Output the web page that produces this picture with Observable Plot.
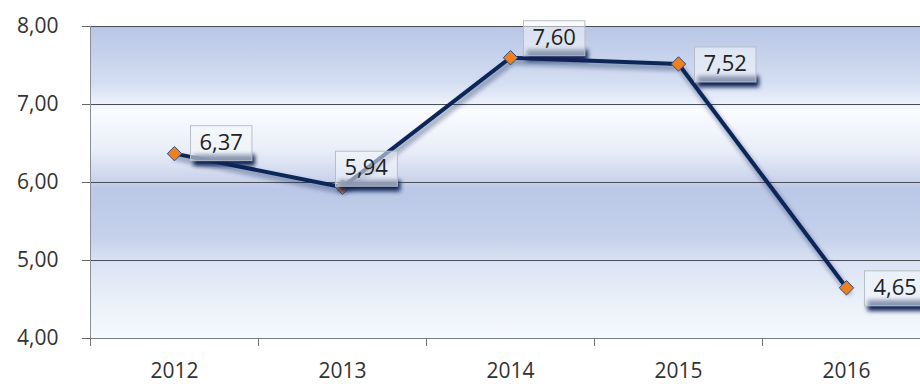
<!DOCTYPE html>
<html><head><meta charset="utf-8">
<script src="https://cdn.jsdelivr.net/npm/d3@7"></script>
<script src="https://cdn.jsdelivr.net/npm/@observablehq/plot@0.6"></script>
<style>body{margin:0;background:#fff} #chart svg{display:block}</style>
</head><body><div id="chart"></div>
<script>
const years = [2012, 2013, 2014, 2015, 2016];
const values = [6.37, 5.94, 7.60, 7.52, 4.65];
const yTicks = [4, 5, 6, 7, 8];

const data = years.map((year, i) => ({year, value: values[i]}));
const fmt = d => d.toFixed(2).replace(".", ",");
const labelDx = [25, 2, 22, 25, 27];
const labelDy = [-11, -19, -20, 0, 0];
const bounds = [...years.map(y => y - 0.5), years[years.length - 1] + 0.5];
const font = '"Open Sans", sans-serif';

const plot = Plot.plot({
  width: 920, height: 384, marginTop: 26, marginBottom: 46, marginLeft: 90, marginRight: 0,
  style: {fontFamily: font, fontSize: "21px", color: "#333", background: "transparent", overflow: "visible"},
  x: {type: "linear", domain: [bounds[0], bounds[bounds.length - 1]], range: [90, 930]},
  y: {domain: [4, 8], range: [338, 26]},
  marks: [
    Plot.frame({fill: "url(#bgGrad)", stroke: "none"}),
    Plot.ruleY(yTicks.slice(1), {stroke: "#4a4f57", strokeWidth: 1.2}),
    Plot.ruleY([4], {stroke: "#7a7f86"}),
    Plot.ruleX([bounds[0]], {y1: 4, y2: 8, stroke: "#8a8f96"}),
    Plot.axisY({ticks: yTicks, tickFormat: fmt, tickSize: 8, tickPadding: 24, stroke: "#666", label: null}),
    Plot.axisX({ticks: bounds, tickFormat: () => "", tickSize: 8, stroke: "#777", label: null}),
    Plot.axisX({ticks: years, tickFormat: d => String(d), tickSize: 0, tickPadding: 25, label: null}),
    Plot.line(data, {x: "year", y: "value", stroke: "#0a1f4d", strokeWidth: 6, strokeOpacity: 0.35, dx: 2, dy: 4, className: "lshadow"}),
    Plot.line(data, {x: "year", y: "value", stroke: "#0d2659", strokeWidth: 4, strokeLinejoin: "round"}),
    Plot.dot(data, {x: "year", y: "value", symbol: "diamond2", r: 6.5, fill: "#f07f1c", stroke: "#2c4e8c", strokeWidth: 1}),
    ...data.map((d, i) => Plot.text([d], {x: "year", y: "value", text: e => fmt(e.value), dx: labelDx[i], dy: labelDy[i], textAnchor: "start", fill: "#222", fontSize: 22, className: "vlabel"}))
  ]
});

document.getElementById("chart").appendChild(plot);
const svg = d3.select(plot);
const defs = svg.insert("defs", ":first-child");
const g = defs.append("linearGradient").attr("id", "bgGrad").attr("x1", 0).attr("y1", 0).attr("x2", 0).attr("y2", 1);
[[0, "#b8c6e5"], [0.18, "#d4def2"], [0.245, "#ebf0fa"], [0.27, "#fafcff"], [0.4, "#e8edf8"], [0.49, "#cad4ec"], [0.52, "#bac7e6"], [0.68, "#c6d2eb"], [0.76, "#dbe4f4"], [0.88, "#eaf0f9"], [1, "#f6f9fd"]]
  .forEach(([o, c]) => g.append("stop").attr("offset", o).attr("stop-color", c));
const f = defs.append("filter").attr("id", "blur").attr("x", "-20%").attr("y", "-50%").attr("width", "140%").attr("height", "200%");
f.append("feGaussianBlur").attr("stdDeviation", 2);
svg.selectAll(".lshadow path").attr("filter", "url(#blur)");
svg.selectAll(".vlabel text").each(function() {
  const bb = this.getBBox();
  const cy = bb.y + bb.height / 2;
  const parent = this.parentNode;
  const tr = this.getAttribute("transform");
  const sh = document.createElementNS("http://www.w3.org/2000/svg", "rect");
  d3.select(sh).attr("x", bb.x - 6).attr("y", cy + 14).attr("width", bb.width + 18).attr("height", 11)
    .attr("fill", "#0b2254").attr("filter", "url(#blur)").attr("transform", tr);
  const box = document.createElementNS("http://www.w3.org/2000/svg", "rect");
  d3.select(box).attr("x", bb.x - 9).attr("y", cy - 15).attr("width", bb.width + 18).attr("height", 35)
    .attr("fill", "#f4f7fc").attr("fill-opacity", 0.55).attr("stroke", "#b8bec8").attr("stroke-width", 1).attr("transform", tr);
  parent.insertBefore(sh, this);
  parent.insertBefore(box, this);
});
</script>
</body></html>
